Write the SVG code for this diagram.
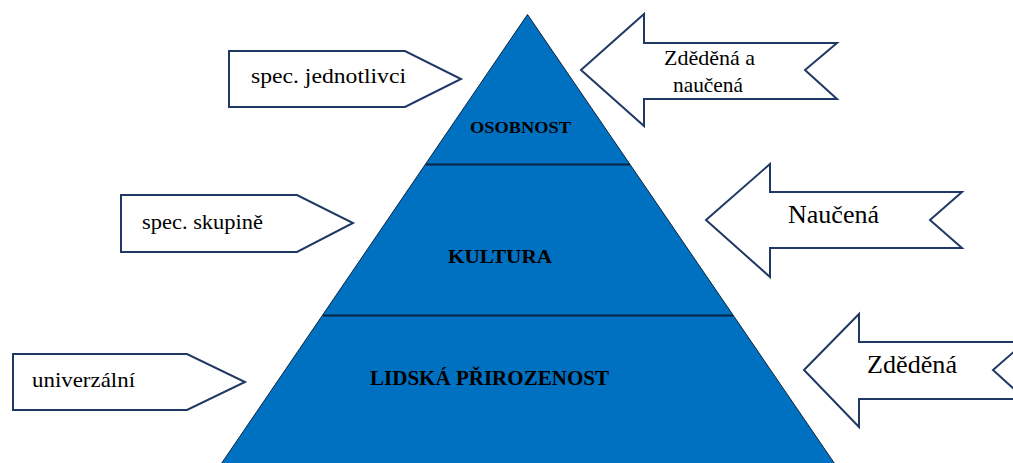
<svg xmlns="http://www.w3.org/2000/svg" width="1013" height="463" viewBox="0 0 1013 463">
<style>
.arrow{fill:#fff;stroke:#1F3864;stroke-width:2;stroke-linejoin:miter}
.pyr{fill:#0070C0;stroke:#0B2440;stroke-width:1}
.band{stroke:#0B2440;stroke-width:2;fill:none}
.t{font-family:"Liberation Serif","Times New Roman",serif;fill:#000}
.tb{font-family:"Liberation Serif","Times New Roman",serif;font-weight:bold;fill:#000}
</style>
<rect width="1013" height="463" fill="#fff"/>
<g id="pyramid">
<polygon class="pyr" points="527.5,14.5 217,470 839,470"/>
</g>
<g id="connectors">
<line class="band" x1="426" y1="164.5" x2="630" y2="164.5"/>
<line class="band" x1="323" y1="315.5" x2="733" y2="315.5"/>
</g>
<g id="osobnost">
<text class="tb" x="470" y="133" font-size="17.5" textLength="101" lengthAdjust="spacingAndGlyphs">OSOBNOST</text>
</g>
<g id="kultura">
<text class="tb" x="448" y="263" font-size="19" textLength="104" lengthAdjust="spacingAndGlyphs">KULTURA</text>
</g>
<g id="lidska">
<text class="tb" x="370" y="385" font-size="21" textLength="239" lengthAdjust="spacingAndGlyphs">LIDSKÁ PŘIROZENOST</text>
</g>
<g id="spec-jednotlivci">
<polygon class="arrow" points="229,51 405,51 461,79 405,107 229,107"/>
<text class="t" x="251" y="83" font-size="22" textLength="155" lengthAdjust="spacingAndGlyphs">spec. jednotlivci</text>
</g>
<g id="spec-skupine">
<polygon class="arrow" points="121,195 297,195 353,223 297,252 121,252"/>
<text class="t" x="142" y="229" font-size="22" textLength="121" lengthAdjust="spacingAndGlyphs">spec. skupině</text>
</g>
<g id="univerzalni">
<polygon class="arrow" points="13,354 187,354 245,382 187,410 13,410"/>
<text class="t" x="32" y="387" font-size="22" textLength="103" lengthAdjust="spacingAndGlyphs">univerzální</text>
</g>
<g id="zdedena-a-naucena">
<polygon class="arrow" points="581,70 644,14 644,43 837,43 805,70 837,99 644,99 644,126"/>
<text class="t" x="664" y="65" font-size="21" textLength="91" lengthAdjust="spacingAndGlyphs">Zděděná a</text>
<text class="t" x="673" y="92" font-size="21" textLength="70" lengthAdjust="spacingAndGlyphs">naučená</text>
</g>
<g id="naucena">
<polygon class="arrow" points="706,220 770,164 770,192 962,192 930,220 962,248 770,248 770,277"/>
<text class="t" x="788" y="223" font-size="26" textLength="91" lengthAdjust="spacingAndGlyphs">Naučená</text>
</g>
<g id="zdedena">
<polygon class="arrow" points="804,370 859,314 859,342 1025,342 993,370 1025,399 859,399 859,427"/>
<text class="t" x="867" y="373" font-size="26" textLength="90" lengthAdjust="spacingAndGlyphs">Zděděná</text>
</g>
</svg>
